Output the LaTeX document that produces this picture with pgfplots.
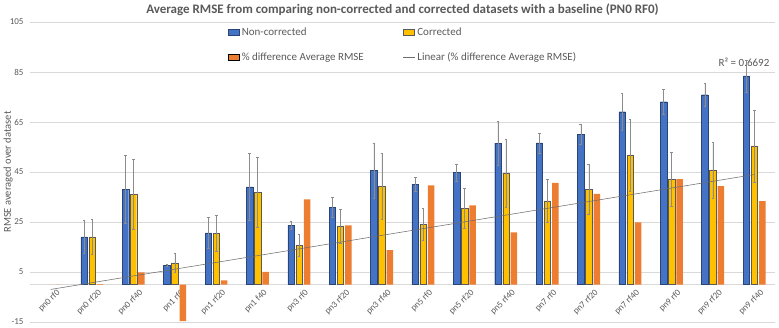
\documentclass[border=0pt]{standalone}
\usepackage{pgfplots}
\pgfplotsset{compat=1.18}
\usepackage{pgfplotstable}
\usepackage{fontspec}
\setmainfont{Carlito}

\definecolor{ncblue}{HTML}{4472C4}
\definecolor{cyellow}{HTML}{FFC000}
\definecolor{dorange}{HTML}{ED7D31}
\definecolor{txtgray}{HTML}{595959}
\definecolor{gridgray}{HTML}{D9D9D9}
\definecolor{errgray}{HTML}{8C8C8C}
\definecolor{trendgray}{HTML}{6E6E6E}

\pgfplotsset{
  rect legend/.style={legend image code/.code={\draw[##1] (0pt,-3pt) rectangle (11pt,3pt);}},
  short line legend/.style={legend image code/.code={\draw[##1] (0pt,0pt) -- (12pt,0pt);}},
  gray errors/.style={error bars/.cd, y dir=both, y explicit,
    error bar style={errgray, line width=0.5pt},
    error mark options={rotate=90, errgray, mark size=1.3pt}},
}

% idx: dataset position; blue/berr: non-corrected mean and error;
% yel/yerr: corrected mean and error; diff: % difference of the average RMSE
\pgfplotstableread{
idx blue berr yel yerr diff
0  nan  nan  nan  nan  0
1  19.1 6.7  19.1 7.1  0.2
2  38.2 13.6 36.1 14.0 4.9
3  7.8  0.5  8.7  3.8  -14.6
4  20.7 6.2  20.5 7.2  1.7
5  39.1 13.4 36.9 14.0 5.1
6  23.8 1.6  15.7 4.4  34.1
7  31.0 4.1  23.5 6.8  23.7
8  45.7 11.0 39.3 13.2 13.8
9  40.2 2.7  24.1 6.4  39.7
10 44.9 3.4  30.6 8.0  31.7
11 56.5 8.9  44.6 13.5 20.9
12 56.6 4.0  33.5 8.7  40.7
13 60.1 4.1  38.2 10.0 36.3
14 69.1 7.5  51.8 14.4 24.9
15 73.1 5.0  42.2 10.8 42.2
16 75.9 4.7  45.8 11.2 39.4
17 83.4 6.5  55.4 14.4 33.4
}\rmse

% offset of the side bars inside a group, in category units
\def\side{0.1932}

\begin{document}
\begin{tikzpicture}[x=1pt,y=1pt]
\useasboundingbox (0,0) rectangle (779,327);
\begin{axis}[
  at={(30pt,5pt)}, anchor=south west,
  scale only axis, width=745pt, height=300pt,
  xmin=-0.5, xmax=17.5, ymin=-15, ymax=105,
  axis x line=middle, axis y line=left,
  x axis line style={draw=gridgray, line width=0.6pt, -},
  y axis line style={draw=none},
  major tick length=0pt,
  xtick={0,...,17},
  xticklabels={pn0 rf0, pn0 rf20, pn0 rf40, pn1 rf0, pn1 rf20, pn1 f40,
    pn3 rf0, pn3 rf20, pn3 rf40, pn5 rf0, pn5 rf20, pn5 rf40,
    pn7 rf0, pn7 rf20, pn7 rf40, pn9 rf0, pn9 rf20, pn9 rf40},
  ytick={-15,5,...,105},
  ymajorgrids, grid style={gridgray, line width=0.6pt},
  /pgf/number format/assume math mode=true,
  tick label style={font=\fontsize{9}{10}\selectfont, text=txtgray},
  xticklabel style={rotate=45, anchor=north east, inner sep=1pt, xshift=2pt, yshift=-5.5pt},
  yticklabel style={xshift=-3pt},
  ylabel={RMSE averaged over dataset},
  ylabel style={at={(axis description cs:-0.0295,0.5)}, anchor=center,
    font=\fontsize{10.5}{12}\selectfont, text=txtgray},
  title={Average RMSE from comparing non-corrected and corrected datasets with a baseline (PN0 RF0)},
  title style={at={(axis description cs:0.5,1)}, anchor=base, yshift=2pt,
    font=\bfseries\fontsize{13}{15}\selectfont, text=txtgray},
  legend columns=2,
  legend cell align=left,
  legend style={at={(0.262,0.995)}, anchor=north west, draw=none, fill=none,
    font=\fontsize{11}{13}\selectfont, text=txtgray, row sep=12pt,
    /tikz/every even column/.append style={column sep=37pt}},
]
\addplot[ybar, bar width=6.5pt, bar shift=0pt, fill=ncblue, draw=ncblue!60!black,
  line width=0.4pt, rect legend, gray errors]
  table[x expr=\thisrow{idx}-\side, y=blue, y error=berr] {\rmse};
\addlegendentry{Non-corrected}
\addplot[ybar, bar width=6.5pt, bar shift=0pt, fill=cyellow, draw=black!65,
  line width=0.4pt, rect legend, gray errors]
  table[x=idx, y=yel, y error=yerr] {\rmse};
\addlegendentry{Corrected}
\addplot[ybar, bar width=6.5pt, bar shift=0pt, fill=dorange, draw=none, rect legend]
  table[x expr=\thisrow{idx}+\side, y=diff] {\rmse};
\addlegendentry{\% difference Average RMSE}
\addplot[sharp plot, no marks, color=trendgray, line width=0.55pt, short line legend]
  table[x=idx, y={create col/linear regression={y=diff}}] {\rmse};
\addlegendentry{Linear (\% difference Average RMSE)}
\node[font=\fontsize{11}{13}\selectfont, text=txtgray] at (axis cs:16.75,89) {R² = 0.6692};
\end{axis}
\end{tikzpicture}
\end{document}
